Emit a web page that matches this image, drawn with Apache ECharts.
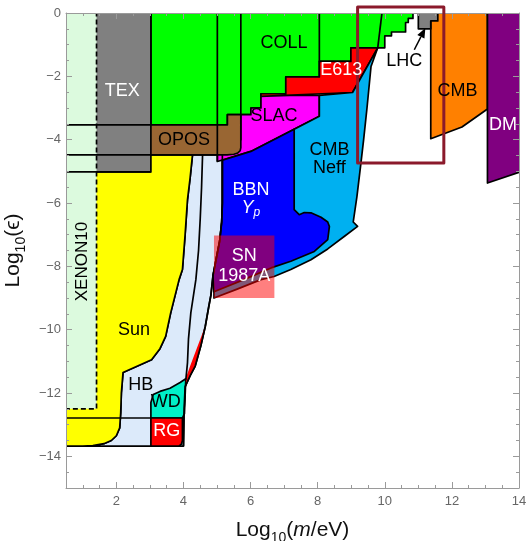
<!DOCTYPE html>
<html><head><meta charset="utf-8">
<script src="https://cdn.jsdelivr.net/npm/echarts@6/dist/echarts.min.js"></script>
<style>html,body{margin:0;padding:0;background:#fff}#c{width:527px;height:541px}</style>
</head><body><div id="c"></div>
<script>
// ---- axis ticks ----
const X_TICKS = [2, 4, 6, 8, 10, 12, 14];
const Y_TICKS = [-14, -12, -10, -8, -6, -4, -2, 0];

// ---- region outlines (log10 m/eV , log10 eps) ----
const SUN_EDGE = [[4.27,-4.48],[4.2,-5.2],[4.12,-5.9],[4.05,-7.0],[3.97,-8.1],[3.87,-8.42],[3.62,-9.47],[3.47,-10.21],[3.3,-10.6],[3.05,-10.95],[2.2,-11.35],[2.15,-12.0],[2.13,-12.63],[2.1,-13.1],[2.0,-13.35],[1.85,-13.5],[1.63,-13.6],[1.3,-13.66],[1.0,-13.68]];
const SUN = [[0.3,-4.48]].concat(SUN_EDGE, [[0.3,-13.68]]);
const HB_OUTER = [[4.0,-13.68],[4.02,-12.5],[4.05,-11.8],[4.2,-11.45],[4.35,-11.15],[4.52,-10.5],[4.65,-9.9],[4.75,-9.3],[4.82,-8.9],[4.88,-8.3],[4.97,-7.8],[5.08,-7.2],[5.14,-6.6],[5.16,-6.0],[5.16,-4.48]];
const HB = SUN_EDGE.concat(HB_OUTER);
const HB_INNER = [[4.57,-4.48],[4.54,-5.5],[4.5,-6.5],[4.45,-7.5],[4.37,-8.42],[4.22,-9.47],[4.15,-10.3],[4.12,-11.05],[4.07,-11.6]];
const RED_SLIVER = [[4.66,-9.85],[4.52,-10.5],[4.35,-11.15],[4.2,-11.45],[4.07,-11.8],[4.08,-11.5],[4.2,-11.15],[4.36,-10.7],[4.52,-10.25]];
const WD = [[3.03,-12.79],[3.97,-12.79],[4.03,-12.65],[4.07,-11.55],[3.9,-11.67],[3.6,-11.85],[3.3,-11.95],[3.1,-12.05],[3.03,-12.3]];
const RG = [[3.03,-12.79],[3.97,-12.79],[3.97,-13.5],[3.94,-13.62],[3.86,-13.68],[3.03,-13.68]];
const COLL = [[3.03,0.3],[3.03,-3.53],[5.31,-3.53],[5.31,-3.21],[6.01,-3.21],[6.01,-3.0],[6.31,-3.0],[6.31,-2.55],[7.05,-2.55],[7.05,-2.02],[8.05,-2.02],[8.05,-1.53],[8.99,-1.53],[8.99,-1.1],[10.0,-1.1],[10.0,-0.72],[10.2,-0.72],[10.2,-0.6],[10.62,-0.6],[10.62,-0.3],[10.7,-0.3],[10.7,-0.17],[10.84,-0.17],[10.84,0.3]];
const SLAC = [[5.01,-4.69],[6.01,-4.37],[8.05,-3.26],[8.05,-2.6],[6.31,-2.6],[6.31,-3.0],[6.01,-3.0],[6.01,-3.21],[5.71,-3.21],[5.71,-4.0],[5.01,-4.0]];
const E613 = [[6.31,-2.55],[7.05,-2.55],[7.05,-2.02],[8.05,-2.02],[8.05,-1.53],[8.99,-1.53],[8.99,-1.1],[9.79,-1.1],[9.04,-2.51],[6.31,-2.63]];
const OPOS = [[0.3,-3.53],[5.31,-3.53],[5.31,-3.21],[5.71,-3.21],[5.71,-4.25],[5.69,-4.35],[5.62,-4.42],[5.5,-4.46],[5.3,-4.48],[0.3,-4.48]];
const TEX = [[0.3,0.3],[3.03,0.3],[3.03,-5.02],[0.3,-5.02]];
const XENON10 = [[0.3,0.3],[1.41,0.3],[1.41,-12.5],[0.3,-12.5]];
const XENON10_EDGE = [[1.41,0.3],[1.41,-12.5],[0.3,-12.5]];
const NEFF = [[7.3,-3.67],[8.05,-3.26],[8.05,-2.6],[9.04,-2.51],[9.79,-1.1],[9.59,-1.69],[9.47,-3.0],[9.37,-4.0],[9.29,-4.73],[9.17,-5.8],[9.06,-6.6],[9.19,-6.74],[8.8,-7.05],[8.3,-7.45],[7.8,-7.79],[7.2,-8.1],[6.7,-8.32],[6.31,-8.42],[5.6,-8.72],[4.91,-9.0],[4.91,-8.8]];
const BBN = [[5.16,-4.65],[6.01,-4.37],[7.3,-3.67],[7.3,-6.21],[7.45,-6.37],[7.6,-6.3],[7.8,-6.31],[8.1,-6.45],[8.3,-6.6],[8.35,-6.74],[8.3,-7.16],[7.9,-7.53],[7.2,-7.84],[6.61,-8.05],[5.8,-8.42],[4.91,-8.8],[4.88,-8.3],[4.97,-7.8],[5.08,-7.2],[5.14,-6.6],[5.16,-6.0]];
const SN1987A = [[4.91,-7.03],[6.71,-7.03],[6.71,-9.0],[4.91,-9.0]];
const CMB = [[11.37,0.3],[13.06,0.3],[13.06,-3.03],[12.3,-3.6],[11.37,-3.97]];
const DM = [[13.06,0.3],[14.3,0.3],[14.3,-4.94],[14.0,-5.03],[13.06,-5.37]];
const LHC = [[11.0,0.3],[11.58,0.3],[11.58,-0.25],[11.37,-0.25],[11.37,-0.5],[11.0,-0.5]];
const LINES = [
  [[0.3,-3.53],[3.03,-3.53]],
  [[0.3,-4.48],[3.03,-4.48]],
  [[0.3,-5.02],[3.03,-5.02]],
  [[0.3,-12.79],[3.03,-12.79]],
  [[5.01,0.3],[5.01,-4.69]],
  [[5.71,0.3],[5.71,-3.21]],
  [[8.05,0.3],[8.05,-1.53]],
  [[9.95,0.3],[9.79,-1.1]]
];
const ZOOM_BOX = [[9.19,0.19],[11.76,0.19],[11.76,-4.74],[9.19,-4.74]];
const ARROW = [[10.88,-1.16],[11.21,-0.47]];

// ---- labels ----
const LABEL_TEXT = ['TEX','COLL','OPOS','SLAC','E613','LHC','CMB','DM','CMB','Neff','BBN','Yp','SN','1987A','Sun','HB','WD','RG','XENON10'];
const LABEL_X = [2.18, 7.0, 4.02, 6.7, 8.7, 10.58, 12.17, 13.52, 8.35, 8.35, 6.01, 6.01, 5.81, 5.81, 2.53, 2.73, 3.47, 3.5, 0.99];
const LABEL_Y = [-2.47, -0.95, -4.0, -3.26, -1.79, -1.53, -2.47, -3.53, -4.32, -4.89, -5.58, -6.16, -7.68, -8.32, -10.0, -11.74, -12.3, -13.2, -7.85];
const WHITE_LABELS = ['TEX','E613','DM','BBN','Yp','SN','1987A','RG'];

const FONT = '"Liberation Sans", Arial, sans-serif';
const LW = 1.7;

function poly(pts, fill, opt) {
  opt = opt || {};
  return {
    type: 'custom', coordinateSystem: 'cartesian2d', xAxisIndex: 0, yAxisIndex: 0,
    silent: true, animation: false, clip: opt.clip !== false, z: opt.z || 2,
    data: [[1, -1]],
    renderItem: function (params, api) {
      return {
        type: opt.line ? 'polyline' : 'polygon',
        shape: { points: pts.map(function (p) { return api.coord(p); }) },
        style: {
          fill: opt.line ? null : fill,
          stroke: opt.stroke === undefined ? '#000' : opt.stroke,
          lineWidth: opt.lw || LW,
          lineDash: opt.dash || null,
          lineJoin: 'round'
        }
      };
    }
  };
}

const series = [
  poly(HB, '#dceafa'),
  poly(SUN, '#ffff00'),
  poly(COLL, '#00ff00'),
  poly(SLAC, '#ff00ff'),
  poly(E613, '#ff0000'),
  poly(OPOS, '#996633'),
  poly(TEX, '#808080'),
  poly(XENON10, '#dcfade', { stroke: null }),
  poly(XENON10_EDGE, null, { line: true, dash: [5, 3], lw: 1.7 }),
  poly(NEFF, '#00b0f0'),
  poly(BBN, '#0000ff'),
  poly(WD, '#00f0c8'),
  poly(RG, '#ff0000'),
  poly(RED_SLIVER, '#ff0000', { stroke: null }),
  poly(HB_OUTER, null, { line: true }),
  poly(HB_INNER, null, { line: true }),
  poly(SN1987A, 'rgba(255,0,0,0.5)', { stroke: null }),
  poly(CMB, '#ff8000'),
  poly(DM, '#800080'),
  poly(LHC, '#808080')
];
LINES.forEach(function (l) { series.push(poly(l, null, { line: true })); });
series.push(poly(ZOOM_BOX, 'rgba(0,0,0,0)', { stroke: '#8b1a2b', lw: 3, clip: false, z: 20 }));
series.push({
  type: 'custom', coordinateSystem: 'cartesian2d', silent: true, animation: false, z: 21, clip: false,
  data: [[1, -1]],
  renderItem: function (params, api) {
    const a = api.coord(ARROW[0]), b = api.coord(ARROW[1]);
    const dx = b[0] - a[0], dy = b[1] - a[1], L = Math.sqrt(dx * dx + dy * dy);
    const ux = dx / L, uy = dy / L, hl = 10, hw = 4;
    const base = [b[0] - ux * hl, b[1] - uy * hl];
    return { type: 'group', children: [
      { type: 'line', shape: { x1: a[0], y1: a[1], x2: base[0], y2: base[1] }, style: { stroke: '#000', lineWidth: 1.5 } },
      { type: 'polygon', shape: { points: [b, [base[0] - uy * hw, base[1] + ux * hw], [base[0] + uy * hw, base[1] - ux * hw]] }, style: { fill: '#000' } }
    ] };
  }
});
series.push({
  type: 'custom', coordinateSystem: 'cartesian2d', silent: true, animation: false, z: 22, clip: false,
  data: LABEL_TEXT.map(function (t, i) { return [LABEL_X[i], LABEL_Y[i], i]; }),
  renderItem: function (params, api) {
    const i = params.dataIndex, t = LABEL_TEXT[i];
    const p = api.coord([LABEL_X[i], LABEL_Y[i]]);
    const white = WHITE_LABELS.indexOf(t) >= 0;
    const el = {
      type: 'text', x: p[0], y: p[1],
      style: {
        text: t === 'Yp' ? '{i|Y}{s|p}' : t,
        fill: white ? '#fff' : '#000',
        font: '18px ' + FONT, align: 'center', verticalAlign: 'middle',
        rich: {
          i: { fontStyle: 'italic', fontSize: 18, fontFamily: FONT, fill: '#fff', lineHeight: 22 },
          s: { fontStyle: 'italic', fontSize: 12, fontFamily: FONT, fill: '#fff', verticalAlign: 'bottom', lineHeight: 12 }
        }
      }
    };
    if (t === 'XENON10') { el.rotation = Math.PI / 2; el.style.font = '17px ' + FONT; }
    return el;
  }
});

const AX = '#9a9a9a';
function xAxis(pos, major, withLabel) {
  const a = {
    type: 'value', min: 0.5, max: 14, position: pos, z: 10,
    axisLine: { show: !major, onZero: false, lineStyle: { color: AX, width: 1 } },
    axisTick: { show: true, inside: true, length: major ? 6 : 3, lineStyle: { color: AX } },
    axisLabel: { show: false },
    splitLine: { show: false }
  };
  if (major) a.axisTick.customValues = X_TICKS; else a.interval = 0.5;
  if (withLabel) {
    a.axisLabel = { show: true, interval: 0, color: '#666', fontSize: 13, fontFamily: FONT, margin: 7,
      formatter: function (v) { return Math.abs(v % 2) < 1e-9 ? String(v) : ''; } };
    a.name = '{n|Log}{s|10}{n|(}{i|m}{n|/eV)}';
    a.nameLocation = 'middle';
    a.nameGap = 27;
    a.nameTextStyle = { rich: {
      n: { fontSize: 21, fontFamily: FONT, color: '#111', lineHeight: 30 },
      i: { fontSize: 21, fontFamily: FONT, color: '#111', fontStyle: 'italic', lineHeight: 30 },
      s: { fontSize: 14, fontFamily: FONT, color: '#111', verticalAlign: 'bottom', lineHeight: 14 }
    } };
  }
  return a;
}
function yAxis(pos, major, withLabel) {
  const a = {
    type: 'value', min: -15, max: 0, position: pos, z: 10,
    axisLine: { show: !major, onZero: false, lineStyle: { color: AX, width: 1 } },
    axisTick: { show: true, inside: true, length: major ? 6 : 3, lineStyle: { color: AX } },
    axisLabel: { show: false },
    splitLine: { show: false }
  };
  if (major) a.axisTick.customValues = Y_TICKS; else a.interval = 0.5;
  if (withLabel) {
    a.axisLabel = { show: true, interval: 0, color: '#666', fontSize: 13, fontFamily: FONT, margin: 5,
      formatter: function (v) { return Math.abs(v % 2) < 1e-9 ? (v < 0 ? '\u2212' + Math.abs(v) : '0') : ''; } };
    a.name = '{n|Log}{s|10}{n|(\u03f5)}';
    a.nameLocation = 'middle';
    a.nameGap = 27;
    a.nameTextStyle = { rich: {
      n: { fontSize: 21, fontFamily: FONT, color: '#111', lineHeight: 30 },
      s: { fontSize: 14, fontFamily: FONT, color: '#111', verticalAlign: 'bottom', lineHeight: 14 }
    } };
  }
  return a;
}

const chart = echarts.init(document.getElementById('c'), null, { renderer: 'canvas' });
chart.setOption({
  animation: false,
  backgroundColor: '#fff',
  grid: { left: 66, right: 8, top: 13, bottom: 53, containLabel: false, outerBoundsMode: 'none' },
  xAxis: [xAxis('bottom', false, true), xAxis('bottom', true, false), xAxis('top', false, false), xAxis('top', true, false)],
  yAxis: [yAxis('left', false, true), yAxis('left', true, false), yAxis('right', false, false), yAxis('right', true, false)],
  series: series
});
</script></body></html>
